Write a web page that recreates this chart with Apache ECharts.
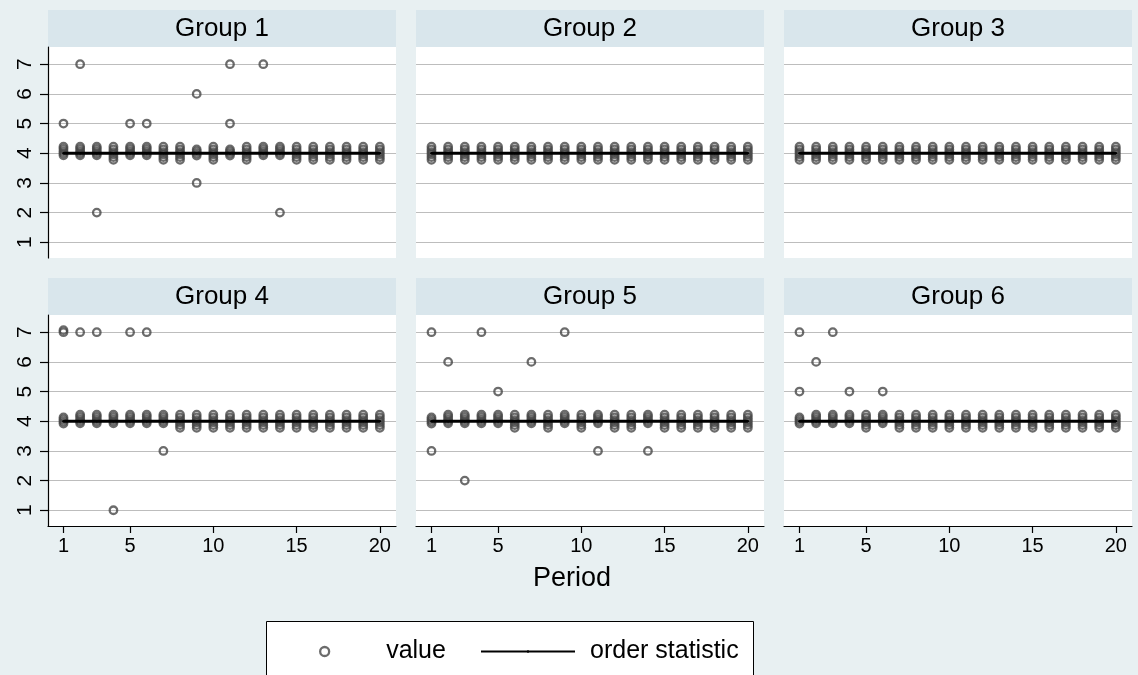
<!DOCTYPE html>
<html>
<head>
<meta charset="utf-8">
<script src="https://cdn.jsdelivr.net/npm/echarts@6/dist/echarts.min.js"></script>
<style>
  html, body { margin: 0; padding: 0; background: #E8F0F2; }
  #chart { width: 1138px; height: 675px; }
</style>
</head>
<body>
<div id="chart"></div>
<script>
// ---- data ----
const groupNames = ['Group 1', 'Group 2', 'Group 3', 'Group 4', 'Group 5', 'Group 6'];
const periods = [1, 2, 3, 4, 5, 6, 7, 8, 9, 10, 11, 12, 13, 14, 15, 16, 17, 18, 19, 20];
const xTicks = [1, 5, 10, 15, 20];
const yTicks = [1, 2, 3, 4, 5, 6, 7];

// how many of the six members chose 4 in each period
const fours1 = [5, 5, 5, 6, 5, 5, 6, 6, 4, 6, 4, 6, 5, 5, 6, 6, 6, 6, 6, 6];
const fours2 = [6, 6, 6, 6, 6, 6, 6, 6, 6, 6, 6, 6, 6, 6, 6, 6, 6, 6, 6, 6];
const fours3 = [6, 6, 6, 6, 6, 6, 6, 6, 6, 6, 6, 6, 6, 6, 6, 6, 6, 6, 6, 6];
const fours4 = [4, 5, 5, 5, 5, 5, 5, 6, 6, 6, 6, 6, 6, 6, 6, 6, 6, 6, 6, 6];
const fours5 = [4, 5, 5, 5, 5, 6, 5, 6, 5, 6, 5, 6, 6, 5, 6, 6, 6, 6, 6, 6];
const fours6 = [4, 5, 5, 5, 6, 5, 6, 6, 6, 6, 6, 6, 6, 6, 6, 6, 6, 6, 6, 6];

// jittered plotting positions of the stacked 4s, by stack size
const stack4 = [4.13, 4.06, 3.99, 3.92];
const stack5 = [4.22, 4.15, 4.07, 4.0, 3.93];
const stack6 = [4.22, 4.13, 4.04, 3.96, 3.87, 3.78];

// choices other than 4: [period, value]
const others1 = [[1, 5], [2, 7], [3, 2], [5, 5], [6, 5], [9, 6], [9, 3], [11, 7], [11, 5], [13, 7], [14, 2]];
const others2 = [];
const others3 = [];
const others4 = [[1, 7], [1, 7.07], [2, 7], [3, 7], [4, 1], [5, 7], [6, 7], [7, 3]];
const others5 = [[1, 7], [1, 3], [2, 6], [3, 2], [4, 7], [5, 5], [7, 6], [9, 7], [11, 3], [14, 3]];
const others6 = [[1, 7], [1, 5], [2, 6], [3, 7], [4, 5], [6, 5]];

// order statistic per period
const orderStat = [4, 4, 4, 4, 4, 4, 4, 4, 4, 4, 4, 4, 4, 4, 4, 4, 4, 4, 4, 4];

// ---- layout ----
const FONT = '"Liberation Sans", Arial, sans-serif';
const colLeft = [48, 416, 784];
const panelW = 348;
const stripTop = [10, 278];
const stripH = 37;
const plotTop = [47, 315];
const plotH = 211;
const xRange = [0.07, 20.97];
const yRange = [0.47, 7.58];
const markerColor = '#474747';

const foursAll = [fours1, fours2, fours3, fours4, fours5, fours6];
const othersAll = [others1, others2, others3, others4, others5, others6];
const stacks = { 4: stack4, 5: stack5, 6: stack6 };

const grids = [], xAxes = [], yAxes = [], series = [], graphics = [];

groupNames.forEach((name, g) => {
  const row = Math.floor(g / 3), col = g % 3;
  const isBottom = row === 1, isLeft = col === 0;
  grids.push({ left: colLeft[col], top: plotTop[row], width: panelW, height: plotH,
               show: true, backgroundColor: '#FFFFFF', borderWidth: 0 });

  xAxes.push({
    type: 'value', gridIndex: g, min: xRange[0], max: xRange[1],
    axisLine: { show: isBottom, onZero: false, lineStyle: { color: '#000', width: 1.2 } },
    axisTick: { show: isBottom, customValues: xTicks, length: 7, lineStyle: { color: '#000', width: 1.2 } },
    axisLabel: { show: isBottom, customValues: xTicks, margin: 10, color: '#000', fontSize: 20, fontFamily: FONT },
    splitLine: { show: false }
  });

  yAxes.push({
    type: 'value', gridIndex: g, min: yRange[0], max: yRange[1],
    axisLine: { show: isLeft, onZero: false, lineStyle: { color: '#000', width: 1.2 } },
    axisTick: { show: isLeft, customValues: yTicks, length: 8, lineStyle: { color: '#000', width: 1.2 } },
    axisLabel: { show: isLeft, customValues: yTicks, rotate: 90, margin: 12, color: '#000', fontSize: 21, fontFamily: FONT },
    splitLine: { show: true, lineStyle: { color: '#BDBDBD', width: 1.2 } }
  });

  const pts = [];
  periods.forEach((p, i) => {
    stacks[foursAll[g][i]].forEach(v => pts.push([p, v]));
  });
  othersAll[g].forEach(d => pts.push(d));

  series.push({
    name: 'value', type: 'scatter', xAxisIndex: g, yAxisIndex: g, data: pts,
    symbol: 'circle', symbolSize: 7.5, z: 2,
    itemStyle: { color: 'rgba(0,0,0,0)', borderColor: markerColor, borderWidth: 2.3 }
  });
  series.push({
    name: 'order statistic', type: 'line', xAxisIndex: g, yAxisIndex: g,
    data: periods.map((p, i) => [p, orderStat[i]]),
    symbol: 'circle', symbolSize: 2.5, showSymbol: true, z: 3,
    itemStyle: { color: '#000' }, lineStyle: { color: '#000', width: 2.8 }
  });

  // panel strip with group title
  graphics.push({
    type: 'rect', left: colLeft[col], top: stripTop[row],
    shape: { width: panelW, height: stripH }, style: { fill: '#D9E6EC' }, silent: true
  });
  graphics.push({
    type: 'text', x: colLeft[col] + panelW / 2, y: stripTop[row] + stripH / 2,
    style: { text: name, fill: '#000', font: '26px ' + FONT, align: 'center', verticalAlign: 'middle' },
    silent: true
  });
});

// x title and legend frame
graphics.push({
  type: 'text', x: 572, y: 579,
  style: { text: 'Period', fill: '#000', font: '27px ' + FONT, align: 'center', verticalAlign: 'middle' }
});
graphics.push({
  type: 'rect', left: 266, top: 621, z: -1,
  shape: { width: 487, height: 80 },
  style: { fill: '#FFFFFF', stroke: '#000', lineWidth: 1 }
});

const chart = echarts.init(document.getElementById('chart'), null, { renderer: 'canvas' });
chart.setOption({
  animation: false,
  backgroundColor: '#E8F0F2',
  grid: grids,
  xAxis: xAxes,
  yAxis: yAxes,
  series: series,
  graphic: graphics,
  legend: [
    {
      data: ['value'], left: 319, top: 639, padding: 0, z: 10,
      itemWidth: 9, itemHeight: 9,
      itemStyle: { color: 'rgba(0,0,0,0)', borderColor: markerColor, borderWidth: 2.3 },
      textStyle: { fontSize: 25, color: '#000', fontFamily: FONT, padding: [0, 0, 0, 52] }
    },
    {
      data: ['order statistic'], left: 480, top: 639, padding: 0, z: 10,
      itemWidth: 94, itemHeight: 3,
      textStyle: { fontSize: 25, color: '#000', fontFamily: FONT, padding: [0, 0, 0, 10] }
    }
  ]
});
</script>
</body>
</html>
